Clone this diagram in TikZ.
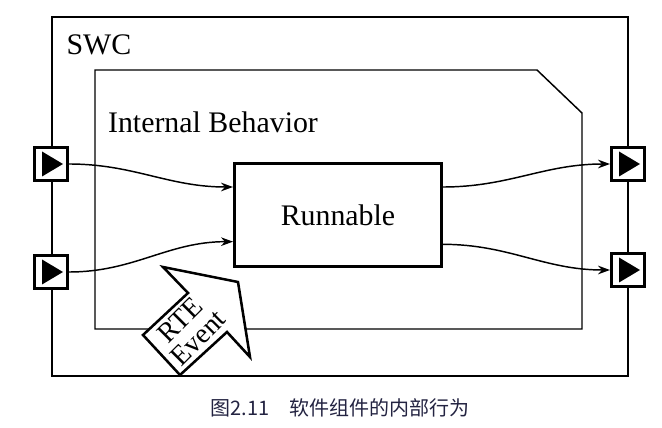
\documentclass[tikz,border=0pt]{standalone}
\usepackage{fontspec}
\setmainfont{Liberation Serif}
\newfontfamily\cjkfont{Noto Sans CJK SC}
\usetikzlibrary{arrows.meta}
\definecolor{captioncol}{RGB}{35,35,65}

\begin{document}
\begin{tikzpicture}[x=0.75pt,y=-0.75pt,
	port/.style={draw,fill=white,line width=2.4pt,minimum size=24.6pt,inner sep=0pt},
	flow/.style={line width=1.1pt,-{Stealth[length=9pt,width=6.5pt]}},
	lbl/.style={font=\fontsize{22.4}{24}\selectfont,inner sep=0pt}]
	\useasboundingbox (0,0) rectangle (662,428);
	% SWC and its internal behavior
	\draw[line width=1.1pt] (52,17) rectangle (628,376);
	\draw[line width=1.1pt] (95,70) -- (537,70) -- (582,113) -- (582,329) -- (95,329) -- cycle;
	\node[lbl] (swc) at (99,45) {SWC};
	\node[lbl] (ib) at (213,122) {Internal Behavior};
	\node[lbl,draw,line width=1.9pt,minimum width=155.6pt,minimum height=77.6pt] (run) at (338,215) {Runnable};
	% ports
	\node[port] (in1) at (51,164) {};
	\node[port] (in2) at (51,272) {};
	\node[port] (out1) at (628,164) {};
	\node[port] (out2) at (628,270) {};
	\foreach \p in {in1,in2,out1,out2}
		\fill ([shift={(-9,-12.5)}]\p.center) -- ++(0,25) -- ++(21,-12.5) -- cycle;
	% data flow
	\draw[flow] (in1.east) to[out=0,in=180] ([yshift=21pt]run.west);
	\draw[flow] (in2.east) to[out=0,in=180] ([yshift=-20pt]run.west);
	\draw[flow] ([yshift=21pt]run.east) to[out=0,in=180] (out1.west);
	\draw[flow] ([yshift=-22pt]run.east) to[out=0,in=180] (out2.west);
	% RTE event
	\draw[line width=1.9pt,fill=white,line join=miter]
		(163,267) -- (238,282) -- (250,357) -- (227,332) -- (180,375) -- (143,335) -- (188,293) -- cycle;
	\node[lbl,rotate=45,align=center,font=\fontsize{21}{19}\selectfont] (rte) at (189,329) {RTE\\Event};
	\node[font=\cjkfont\fontsize{15}{18}\selectfont,text=captioncol] (cap) at (340,408) {图2.11\quad 软件组件的内部行为};
\end{tikzpicture}
\end{document}
